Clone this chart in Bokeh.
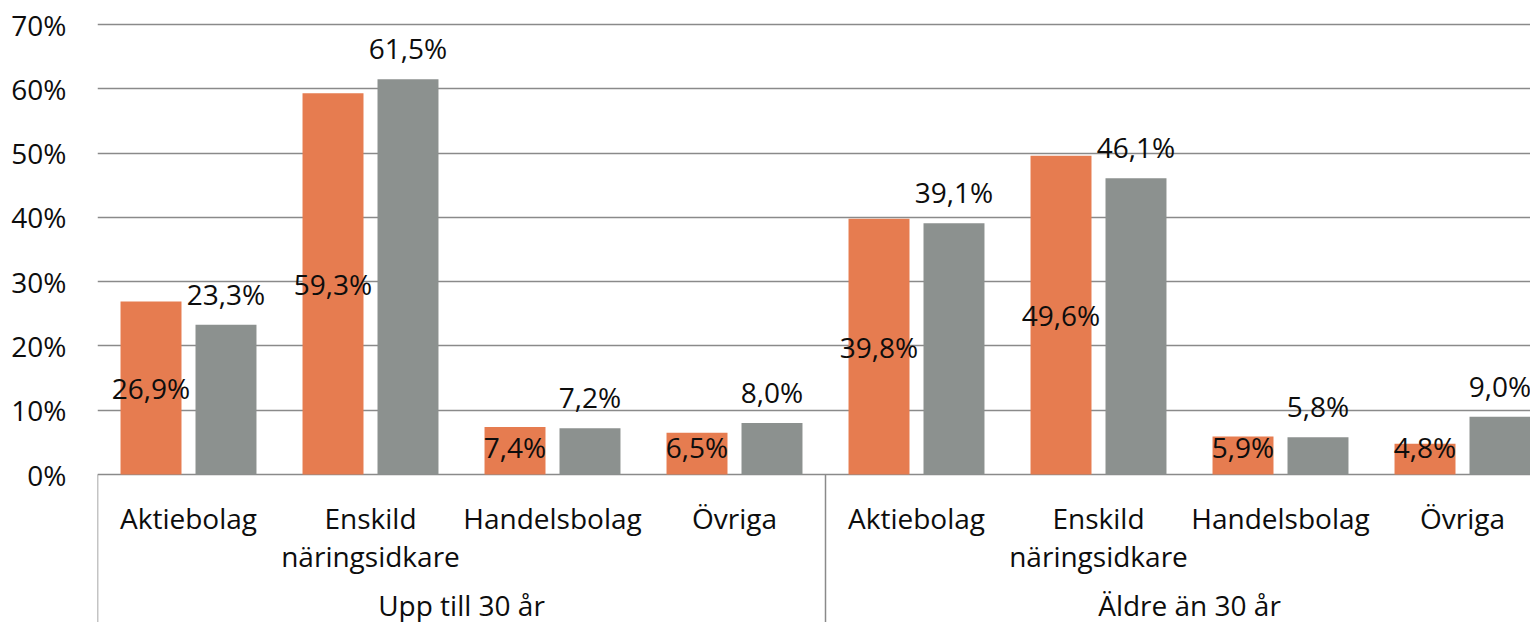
from bokeh.plotting import figure
from bokeh.models import Range1d, FixedTicker, ColumnDataSource, CustomJSTickFormatter
from bokeh.core.properties import value
from bokeh.embed import file_html
from bokeh.resources import INLINE

# ---- data ----
groups = ["Upp till 30 år", "Äldre än 30 år"]
categories = ["Aktiebolag", "Enskild\nnäringsidkare", "Handelsbolag", "Övriga"]
series_a = [26.9, 59.3, 7.4, 6.5, 39.8, 49.6, 5.9, 4.8]   # orange
series_b = [23.3, 61.5, 7.2, 8.0, 39.1, 46.1, 5.8, 9.0]   # gray
y_ticks = [0, 10, 20, 30, 40, 50, 60, 70]

ORANGE = "#E67C50"
GRAY = "#8C918F"
GRID = "#8A8A8A"
TXT = "#0d0d0d"
FONT = "Open Sans"
FS = "28px"

W, H = 1530, 622
LEFT = 97
ZERO = 474           # y position of 0 % inside the figure
px_per = 450 / 70.0
y_top = 70 + 24 / px_per
y_bot = -((H - ZERO) / px_per)
n_cat = len(groups) * len(categories)
x_end = (W - LEFT) / 182.0

p = figure(width=W, height=H, output_backend="svg", toolbar_location=None,
           x_range=Range1d(0, x_end), y_range=Range1d(y_bot, y_top),
           x_axis_location=None, min_border_left=LEFT, min_border_right=0,
           min_border_top=0, min_border_bottom=0)
p.outline_line_color = None
p.background_fill_color = "white"
p.border_fill_color = "white"

p.yaxis.ticker = FixedTicker(ticks=y_ticks)
p.yaxis.formatter = CustomJSTickFormatter(code="return tick.toFixed(0) + '%';")
p.yaxis.axis_line_color = None
p.yaxis.major_tick_line_color = None
p.yaxis.minor_tick_line_color = None
p.yaxis.major_tick_out = 0
p.yaxis.major_tick_in = 0
p.yaxis.major_label_standoff = 31
p.yaxis.major_label_text_font = FONT
p.yaxis.major_label_text_font_size = FS
p.yaxis.major_label_text_color = TXT
p.ygrid.ticker = FixedTicker(ticks=y_ticks)
p.ygrid.grid_line_color = GRID
p.ygrid.grid_line_width = 1.5
p.xgrid.grid_line_color = None

xc = [i + 0.5 for i in range(n_cat)]
off = 0.206
bw = 0.335

fmt = lambda v: f"{v:.1f}".replace(".", ",") + "%"

src_a = ColumnDataSource(dict(x=[x - off for x in xc], top=series_a,
                              ly=[max(v / 2, 4.3) for v in series_a],
                              lab=[fmt(v) for v in series_a]))
src_b = ColumnDataSource(dict(x=[x + off for x in xc], top=series_b,
                              lab=[fmt(v) for v in series_b]))

p.vbar(x="x", top="top", bottom=0, width=bw, source=src_a, fill_color=ORANGE, line_color=None)
p.vbar(x="x", top="top", bottom=0, width=bw, source=src_b, fill_color=GRAY, line_color=None)

p.text(x="x", y="ly", text="lab", source=src_a, text_align="center", text_baseline="middle",
       text_font=value(FONT), text_font_size=FS, text_color=TXT)
p.text(x="x", y="top", text="lab", source=src_b, text_align="center", text_baseline="middle",
       y_offset=-31, text_font=value(FONT), text_font_size=FS, text_color=TXT)

# category axis (two levels) drawn below zero
line1 = []
line2 = []
for g in groups:
    for c in categories:
        parts = c.split("\n")
        line1.append(parts[0])
        line2.append(parts[1] if len(parts) > 1 else "")
y1 = -43 / px_per
y2 = -81 / px_per
y3 = -130 / px_per
p.text(x=xc, y=[y1] * n_cat, text=line1, text_align="center", text_baseline="middle",
       text_font=value(FONT), text_font_size=FS, text_color=TXT)
p.text(x=xc, y=[y2] * n_cat, text=line2, text_align="center", text_baseline="middle",
       text_font=value(FONT), text_font_size=FS, text_color=TXT)
gc = [len(categories) * (i + 0.5) for i in range(len(groups))]
p.text(x=gc, y=[y3] * len(groups), text=groups, text_align="center", text_baseline="middle",
       text_font=value(FONT), text_font_size=FS, text_color=TXT)

seps = [len(categories) * i for i in range(len(groups) + 1)]
p.segment(x0=seps, x1=seps, y0=[0] * len(seps), y1=[y_bot] * len(seps),
          line_color=GRID, line_width=1.5)

open("out.html", "w").write(file_html(p, INLINE))
